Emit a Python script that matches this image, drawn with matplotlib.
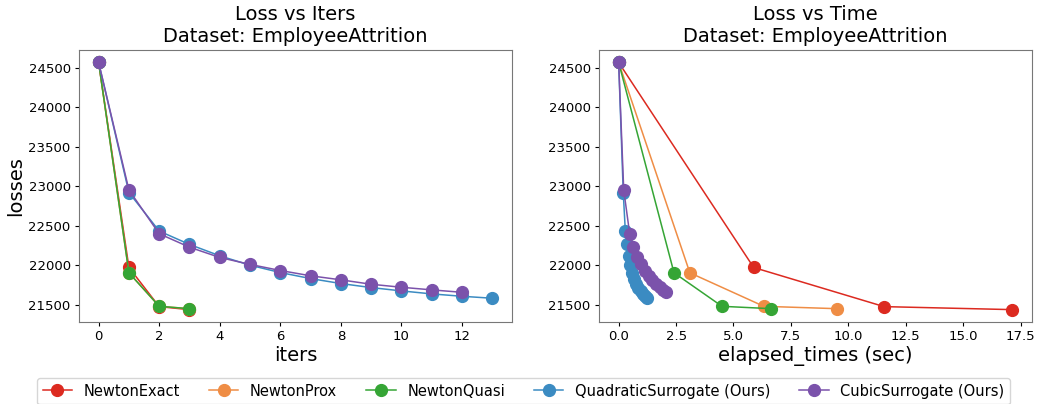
import matplotlib
matplotlib.use('Agg')
import matplotlib.pyplot as plt

# losses per iteration
names = ['NewtonExact', 'NewtonProx', 'NewtonQuasi',
         'QuadraticSurrogate (Ours)', 'CubicSurrogate (Ours)']
colors = ['#dc2a20', '#ef8d45', '#35a535', '#3b8bc2', '#7b52ab']

exact_loss = [24565, 21971, 21476, 21438]
exact_time = [0.0, 5.88, 11.56, 17.14]

prox_loss = [24565, 21904, 21480, 21450]
prox_time = [0.0, 3.10, 6.32, 9.50]

quasi_loss = [24565, 21904, 21480, 21450]
quasi_time = [0.0, 2.41, 4.50, 6.65]

quad_loss = [24565, 22919, 22432, 22263, 22119, 22000, 21907, 21831,
             21768, 21717, 21675, 21637, 21607, 21582]
quad_time = [0.0, 0.20, 0.29, 0.36, 0.44, 0.51, 0.58, 0.66,
             0.76, 0.86, 0.96, 1.06, 1.15, 1.25]

cubic_loss = [24565, 22952, 22398, 22228, 22098, 22010, 21933, 21866,
              21815, 21759, 21721, 21688, 21657]
cubic_time = [0.0, 0.22, 0.48, 0.62, 0.80, 0.98, 1.14, 1.30,
              1.46, 1.62, 1.78, 1.93, 2.08]

losses = [exact_loss, prox_loss, quasi_loss, quad_loss, cubic_loss]
times = [exact_time, prox_time, quasi_time, quad_time, cubic_time]

fig = plt.figure(figsize=(10.39, 4.04), dpi=100)
ax1 = fig.add_axes([0.076, 0.203, 0.4167, 0.673])
ax2 = fig.add_axes([0.5765, 0.203, 0.4167, 0.673])

for name, c, l, t in zip(names, colors, losses, times):
    ax1.plot(range(len(l)), l, '-o', color=c, lw=1.1, ms=8.5, label=name)
    ax2.plot(t, l, '-o', color=c, lw=1.1, ms=8.5, label=name)

ax1.set_title('Loss vs Iters\nDataset: EmployeeAttrition', fontsize=14)
ax2.set_title('Loss vs Time\nDataset: EmployeeAttrition', fontsize=14)
ax1.set_xlabel('iters', fontsize=14, labelpad=2)
ax1.set_ylabel('losses', fontsize=14, labelpad=2)
ax2.set_xlabel('elapsed_times (sec)', fontsize=14, labelpad=2)
ax1.set_xticks(range(0, 13, 2))
ax2.set_xticks([0, 2.5, 5, 7.5, 10, 12.5, 15, 17.5])

for ax in (ax1, ax2):
    ax.set_yticks(range(21500, 25000, 500))
    ax.tick_params(labelsize=9.5, length=3, pad=3)
    for s in ax.spines.values():
        s.set_color('#777777')

handles, labels = ax1.get_legend_handles_labels()
fig.legend(handles, labels, loc='upper center', bbox_to_anchor=(0.504, 0.083),
           ncol=5, fontsize=10.5, frameon=True, columnspacing=2.0)

fig.savefig('out.png', dpi=100)
